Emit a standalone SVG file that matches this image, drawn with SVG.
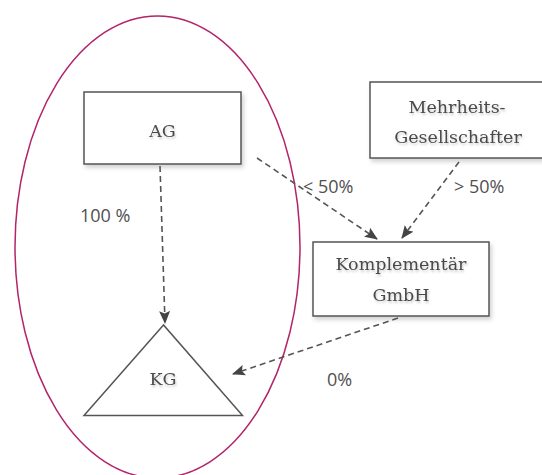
<svg xmlns="http://www.w3.org/2000/svg" width="542" height="475" viewBox="0 0 542 475">
<style>
.box{fill:#fff;stroke:#555;stroke-width:1.5}
.node{font-family:"DejaVu Serif","Liberation Serif",serif;font-size:17.5px;fill:#4a4a4a;text-anchor:middle}
.lbl{font-family:"Open Sans","Liberation Sans",sans-serif;font-size:18px;fill:#505050}
.con{fill:none;stroke:#555;stroke-width:1.6;stroke-dasharray:6 4}
</style>
<defs>
<filter id="sh" x="-10%" y="-10%" width="130%" height="140%">
<feDropShadow dx="2" dy="3" stdDeviation="2" flood-color="#000" flood-opacity="0.18"/>
</filter>
<filter id="tsh" x="-10%" y="-20%" width="130%" height="150%">
<feDropShadow dx="1" dy="2" stdDeviation="1.2" flood-color="#000" flood-opacity="0.2"/>
</filter>
<marker id="ah" viewBox="0 0 13 11" refX="12" refY="5.5" markerWidth="13" markerHeight="11" markerUnits="userSpaceOnUse" orient="auto">
<path d="M0,0 L13,5.5 L0,11 L2.5,5.5 z" fill="#444"/>
</marker>
</defs>
<rect width="542" height="475" fill="#fff"/>
<ellipse id="kreis" cx="157.5" cy="247" rx="142.5" ry="231" fill="none" stroke="#b3246a" stroke-width="1.5"/>
<g id="ag">
<rect class="box" x="84" y="92" width="157" height="72" filter="url(#sh)"/>
<text class="node" x="162.5" y="137" filter="url(#tsh)" font-size="20">AG</text>
</g>
<g id="mehrheit">
<rect class="box" x="370" y="82" width="174" height="76" filter="url(#sh)"/>
<text class="node" x="457" y="113" filter="url(#tsh)">Mehrheits-</text>
<text class="node" x="458" y="143" filter="url(#tsh)">Gesellschafter</text>
</g>
<g id="komplementaer">
<rect class="box" x="313" y="242" width="176" height="74" filter="url(#sh)"/>
<text class="node" x="401" y="270" filter="url(#tsh)">Komplementär</text>
<text class="node" x="401" y="301" filter="url(#tsh)">GmbH</text>
</g>
<g id="kg">
<polygon points="163.5,325 84,415.5 242.5,415.5" fill="none" stroke="#555" stroke-width="1.5"/>
<text class="node" x="163" y="385" filter="url(#tsh)" font-size="19">KG</text>
</g>
<g id="connectors">
<line class="con" x1="160" y1="166" x2="165" y2="323" marker-end="url(#ah)"/>
<line class="con" x1="257" y1="158" x2="377" y2="239" marker-end="url(#ah)"/>
<line class="con" x1="459" y1="162" x2="402" y2="238" marker-end="url(#ah)"/>
<line class="con" x1="398" y1="318" x2="233" y2="374" marker-end="url(#ah)"/>
</g>
<g id="labels">
<text class="lbl" x="80" y="221.5">100 %</text>
<text class="lbl" x="303" y="192.5">&lt; 50%</text>
<text class="lbl" x="454" y="192.5">&gt; 50%</text>
<text class="lbl" x="327" y="385.5">0%</text>
</g>
</svg>
